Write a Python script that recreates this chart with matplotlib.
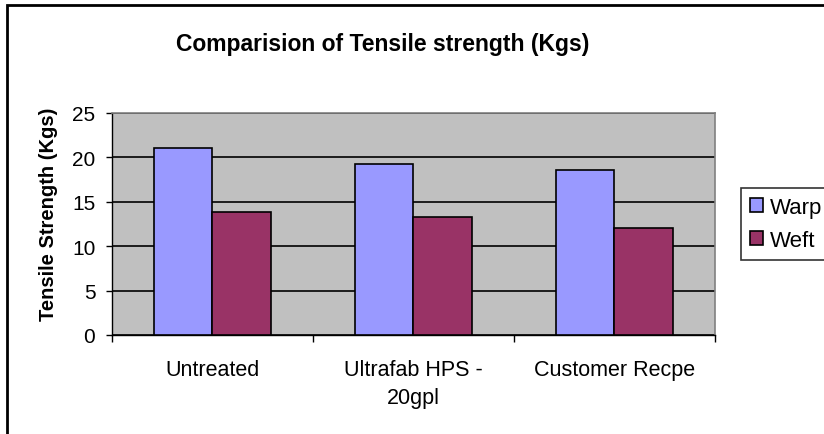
import numpy as np
import matplotlib
matplotlib.use("Agg")
import matplotlib.pyplot as plt
from matplotlib.patches import Rectangle
from matplotlib.ticker import FixedLocator, MultipleLocator

plt.rcParams['font.family'] = ['Liberation Sans', 'DejaVu Sans']

categories = ["Untreated", "Ultrafab HPS -\n20gpl", "Customer Recpe"]
warp = [21.1, 19.3, 18.6]
weft = [13.9, 13.3, 12.0]

fig = plt.figure(figsize=(8.24, 4.35), dpi=100)
ax = fig.add_axes([112/824, 1-336/435, 603/824, 222/435])
ax.set_facecolor("#c0c0c0")

x = np.arange(len(categories))
w = 0.29
ax.bar(x - w/2, warp, w, color="#9999ff", edgecolor="black", linewidth=1.2, label="Warp", zorder=3)
ax.bar(x + w/2, weft, w, color="#993366", edgecolor="black", linewidth=1.2, label="Weft", zorder=3)

ax.set_xlim(-0.5, 2.5)
ax.set_ylim(0, 25)
ax.yaxis.set_major_locator(MultipleLocator(5))
ax.yaxis.grid(True, color="black", linewidth=1.2, zorder=1)
ax.set_axisbelow(True)

ax.set_xticks(x)
ax.set_xticklabels(categories, fontsize=15.5, linespacing=1.45)
ax.tick_params(axis="x", which="major", length=0, pad=17)
ax.xaxis.set_minor_locator(FixedLocator([-0.5, 0.5, 1.5, 2.5]))
ax.tick_params(axis="x", which="minor", length=5, width=1, direction="out")
ax.tick_params(axis="y", length=4.5, width=1, direction="out", labelsize=15, pad=7.5)

for s in ["left", "bottom"]:
    ax.spines[s].set_color("black")
    ax.spines[s].set_linewidth(1)
for s in ["top", "right"]:
    ax.spines[s].set_color("#808080")
    ax.spines[s].set_linewidth(1.2)

ax.set_ylabel("Tensile Strength (Kgs)", fontsize=14.5, fontweight="bold")
ax.yaxis.set_label_coords(-0.09, 0.55)

fig.text(383/824, 1-45/435, "Comparision of Tensile strength (Kgs)", fontsize=16.5,
         fontweight="bold", ha="center", va="center")

leg = fig.legend(loc="upper left", bbox_to_anchor=(741/824, 1-189/435), frameon=True,
                 fancybox=False, edgecolor="black", fontsize=16, handlelength=0.6,
                 handleheight=0.6, handletextpad=0.3, labelspacing=0.55,
                 borderpad=0.4, borderaxespad=0)
leg.get_frame().set_linewidth(1.2)

fig.patches.append(Rectangle((7/824, -0.1), 1.2, 1-6/435+0.1, transform=fig.transFigure,
                             fill=False, edgecolor="black", linewidth=2))

fig.savefig("out.png", dpi=100)
